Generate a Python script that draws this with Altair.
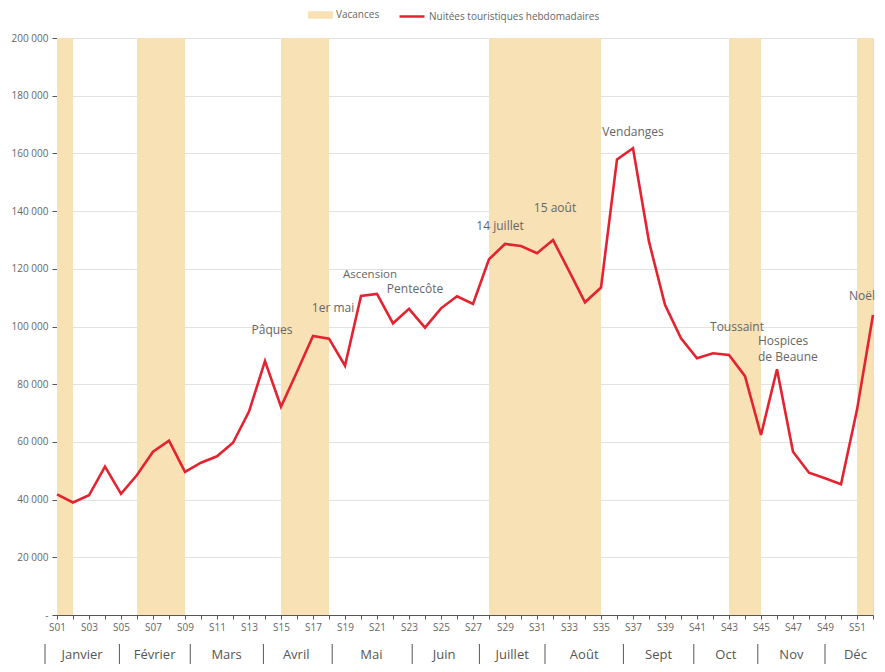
import altair as alt
import pandas as pd

# ---------------- data ----------------
weeks = list(range(1, 53))
nuitees = [41800, 39000, 41500, 51400, 42000, 48500, 56600, 60400, 49600, 52800,
           55000, 59700, 70500, 88000, 72200, 84300, 96700, 95800, 86400, 110600,
           111300, 101100, 106100, 99600, 106300, 110500, 107800, 123300, 128600, 127900,
           125400, 130000, 119300, 108400, 113500, 157900, 161800, 129400, 107500, 95900,
           89000, 90700, 90100, 82800, 62400, 85200, 56600, 49300, 47400, 45300,
           71100, 104000]

vac_start = [1, 6, 15, 28, 43, 51]
vac_end = [2, 9, 18, 35, 45, 52]

months = ["Janvier", "Février", "Mars", "Avril", "Mai", "Juin", "Juillet",
          "Août", "Sept", "Oct", "Nov", "Déc"]
month_center = [2.57, 7.1, 11.6, 15.95, 20.65, 25.2, 29.45, 33.95, 38.6, 42.8, 46.9, 50.9]
month_bounds = [0.25, 4.9, 9.33, 13.9, 18.2, 23.2, 27.4, 31.5, 36.4, 40.8, 44.8, 49.0]

events = ["Pâques", "1er mai", "Pentecôte", "14 juillet", "15 août", "Vendanges", "Toussaint"]
event_week = [14.44, 18.25, 23.375, 28.69, 32.125, 37.0, 43.5]
event_val = [98800, 106400, 113000, 134800, 141100, 167400, 99800]

small_events = ["Ascension"]
small_week = [20.56]
small_val = [117900]

left_events = ["Hospices", "de Beaune"]
left_week = [44.81, 44.81]
left_val = [95100, 89300]

right_events = ["Noël"]
right_week = [52.125]
right_val = [110600]

y_ticks = [0, 20000, 40000, 60000, 80000, 100000, 120000, 140000, 160000, 180000, 200000]

# ---------------- tables ----------------
df_line = pd.DataFrame({"week": weeks, "v": nuitees,
                        "serie": "Nuitées touristiques hebdomadaires"})
df_vac = pd.DataFrame({"s": vac_start, "e": vac_end, "lab": "Vacances"})
df_month = pd.DataFrame({"m": months, "c": month_center})
df_bounds = pd.DataFrame({"b": month_bounds})
df_ev = pd.DataFrame({"t": events, "w": event_week, "v": event_val})
df_small = pd.DataFrame({"t": small_events, "w": small_week, "v": small_val})
df_left = pd.DataFrame({"t": left_events, "w": left_week, "v": left_val})
df_right = pd.DataFrame({"t": right_events, "w": right_week, "v": right_val})

FONT = "Open Sans"
GRAY_TXT = "#666666"
AX = "#555555"

xscale = alt.Scale(domain=[1, 52], nice=False, zero=False)
yscale = alt.Scale(domain=[0, 200000], nice=False)

x_axis = alt.Axis(
    values=weeks,
    labelExpr="datum.value % 2 == 1 ? 'S' + (datum.value < 10 ? '0' : '') + datum.value : ''",
    grid=False, domainColor=AX, tickColor=AX, tickSize=4, labelFontSize=10,
    labelColor=GRAY_TXT, labelPadding=3, labelFlush=False, labelOverlap=False, title=None,
)
y_axis = alt.Axis(
    values=y_ticks,
    labelExpr="datum.value == 0 ? '-' : replace(format(datum.value, ','), ',', ' ')",
    grid=True, gridColor="#e2e2e2", domainColor=AX, tickColor=AX, tickSize=5,
    labelFontSize=10, labelColor=GRAY_TXT, labelPadding=4, labelOverlap=False, title=None,
)


def X(field):
    return alt.X(field, scale=xscale, axis=x_axis, title=None)


def Y(field):
    return alt.Y(field, scale=yscale, axis=y_axis, title=None)


bands = alt.Chart(df_vac).mark_rect(opacity=1).encode(
    x=X("s:Q"),
    x2="e:Q",
    y=alt.value(0),
    y2=alt.value(577),
    fill=alt.Fill("lab:N", scale=alt.Scale(domain=["Vacances"], range=["#F7E1B5"]),
                  legend=alt.Legend(orient="none", legendX=251, legendY=-35.5, title=None,
                                    symbolType="M-1,-0.3H1V0.3H-1Z", symbolSize=625,
                                    symbolStrokeWidth=0, labelFontSize=10,
                                    labelColor=GRAY_TXT, labelOffset=3, padding=0,
                                    labelLimit=400, labelFont=FONT)),
)

line = alt.Chart(df_line).mark_line(strokeWidth=2.6, strokeJoin="miter").encode(
    x=X("week:Q"),
    y=Y("v:Q"),
    stroke=alt.Stroke("serie:N",
                      scale=alt.Scale(domain=["Nuitées touristiques hebdomadaires"],
                                      range=["#E52330"]),
                      legend=alt.Legend(orient="none", legendX=341, legendY=-35.5, title=None,
                                        symbolType="stroke", symbolSize=625,
                                        symbolStrokeWidth=2.5, labelFontSize=10,
                                        labelColor=GRAY_TXT, labelOffset=3, padding=0,
                                        labelLimit=400, labelFont=FONT)),
)

ev = alt.Chart(df_ev).mark_text(fontSize=12, color=GRAY_TXT, font=FONT,
                                align="center", baseline="middle").encode(
    x=X("w:Q"), y=Y("v:Q"), text="t:N",
)
ev_small = alt.Chart(df_small).mark_text(fontSize=11.5, color=GRAY_TXT, font=FONT,
                                         align="center", baseline="middle").encode(
    x=X("w:Q"), y=Y("v:Q"), text="t:N",
)
ev_left = alt.Chart(df_left).mark_text(fontSize=12, color=GRAY_TXT, font=FONT,
                                       align="left", baseline="middle").encode(
    x=X("w:Q"), y=Y("v:Q"), text="t:N",
)
ev_right = alt.Chart(df_right).mark_text(fontSize=12, color=GRAY_TXT, font=FONT,
                                         align="right", baseline="middle").encode(
    x=X("w:Q"), y=Y("v:Q"), text="t:N",
)

seps = alt.Chart(df_bounds).mark_rule(color=AX, strokeWidth=1).encode(
    x=X("b:Q"),
    y=alt.value(606),
    y2=alt.value(626),
)
mlab = alt.Chart(df_month).mark_text(fontSize=13, color=AX, font=FONT,
                                     align="center", baseline="middle").encode(
    x=X("c:Q"),
    y=alt.value(617),
    text="m:N",
)

chart = alt.layer(bands, line, ev, ev_small, ev_left, ev_right, seps, mlab).properties(
    width=816, height=577,
    autosize=alt.AutoSizeParams(type="none"),
    padding={"left": 49, "top": 30, "right": 4, "bottom": 49},
).configure_view(stroke=None).configure(font=FONT).configure_axis(labelOverlap=False)

chart.save("out.html", embed_options={"renderer": "svg", "actions": False})
